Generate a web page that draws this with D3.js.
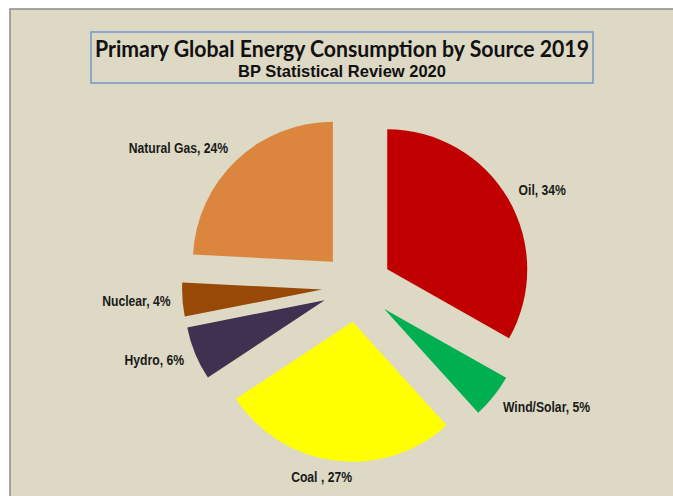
<!DOCTYPE html>
<html>
<head>
<meta charset="utf-8">
<script src="https://cdn.jsdelivr.net/npm/d3@7"></script>
<style>
  html, body { margin: 0; padding: 0; background: #fff; }
  svg { display: block; }
</style>
</head>
<body>
<div id="chart"></div>
<script>
// data (clockwise from 12 o'clock)
const sources = ["Oil", "Wind/Solar", "Coal", "Hydro", "Nuclear", "Natural Gas"];
const shares = [33.2, 5.1, 27.4, 6.2, 3.9, 24.2];
const labels = ["Oil, 34%", "Wind/Solar, 5%", "Coal , 27%", "Hydro, 6%", "Nuclear, 4%", "Natural Gas, 24%"];
const colors = ["#c00000", "#00b050", "#ffff00", "#403151", "#984807", "#dc853f"];

const title = "Primary Global Energy Consumption by Source 2019";
const subtitle = "BP Statistical Review 2020";

const W = 673, H = 496;
const cx = 357, cy = 287, radius = 140, explode = 35;

const svg = d3.select("#chart")
    .append("svg")
    .attr("width", W)
    .attr("height", H);

// chart area
svg.append("rect")
    .attr("x", 10).attr("y", 9)
    .attr("width", W).attr("height", H)
    .attr("fill", "#ddd9c4")
    .attr("stroke", "#8a8a8a")
    .attr("stroke-width", 1.5);

// title box
svg.append("rect")
    .attr("x", 91).attr("y", 32)
    .attr("width", 502).attr("height", 51)
    .attr("fill", "none")
    .attr("stroke", "#7098cc")
    .attr("stroke-width", 1.5);

svg.append("text")
    .attr("x", 342).attr("y", 57)
    .attr("text-anchor", "middle")
    .attr("font-family", "Lato, 'Open Sans', sans-serif")
    .attr("font-weight", "bold")
    .attr("font-size", 22)
    .attr("textLength", 494)
    .attr("lengthAdjust", "spacingAndGlyphs")
    .attr("fill", "#111")
    .text(title);

svg.append("text")
    .attr("x", 342).attr("y", 77)
    .attr("text-anchor", "middle")
    .attr("font-family", "'Liberation Sans', Arial, sans-serif")
    .attr("font-weight", "bold")
    .attr("font-size", 16.5)
    .attr("fill", "#111")
    .text(subtitle);

// pie
const data = sources.map((s, i) => ({source: s, value: shares[i], label: labels[i], color: colors[i]}));

const pie = d3.pie()
    .value(d => d.value)
    .sort(null);

const arc = d3.arc()
    .innerRadius(0)
    .outerRadius(radius);

const arcs = pie(data);

const g = svg.append("g")
    .attr("transform", `translate(${cx},${cy})`);

const slice = g.selectAll("g.slice")
    .data(arcs)
    .enter()
    .append("g")
    .attr("class", "slice")
    .attr("transform", d => {
        const a = (d.startAngle + d.endAngle) / 2;
        return `translate(${explode * Math.sin(a)},${-explode * Math.cos(a)})`;
    });

slice.append("path")
    .attr("d", arc)
    .attr("fill", d => d.data.color);

// data labels, placed just outside each slice (narrow bold look via scaleX)
slice.append("text")
    .each(function (d) {
        const a = (d.startAngle + d.endAngle) / 2;
        const s = Math.sin(a), c = Math.cos(a);
        const r = radius + 12;
        const anchor = s > 0.3 ? "start" : (s < -0.3 ? "end" : "middle");
        const x = r * s - (anchor === "middle" ? 12 : 0);
        const y = -r * c + 5 - 5 * c;
        d3.select(this)
            .attr("transform", `translate(${x},${y}) scale(0.84,1)`)
            .attr("text-anchor", anchor);
    })
    .attr("font-family", "'Liberation Sans Narrow', 'Arial Narrow', 'Liberation Sans', sans-serif")
    .attr("font-weight", "bold")
    .attr("font-size", 14.5)
    .attr("fill", "#1a1a1a")
    .text(d => d.data.label);
</script>
</body>
</html>
